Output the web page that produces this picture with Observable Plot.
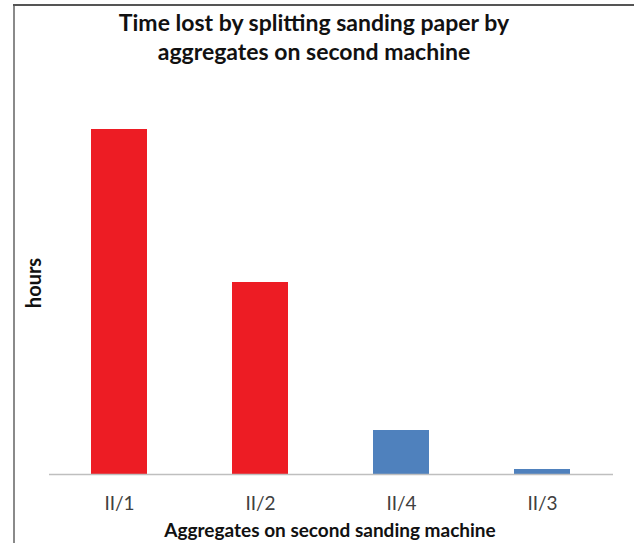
<!DOCTYPE html>
<html>
<head>
<meta charset="utf-8">
<script src="https://cdn.jsdelivr.net/npm/d3@7"></script>
<script src="https://cdn.jsdelivr.net/npm/@observablehq/plot@0.6"></script>
<style>
  html, body { margin: 0; padding: 0; background: #fff; }
  #wrap { position: relative; width: 634px; height: 543px; overflow: hidden; font-family: Lato, "Open Sans", sans-serif; }
  #chart { position: absolute; left: 0; top: 0; }
  .bl { position: absolute; left: 13px; top: 4px; width: 2px; height: 539px; background: #8a8a8a; }
  .bt { position: absolute; left: 13px; top: 4px; width: 621px; height: 2px; background: #555; }
  .title { position: absolute; left: 0; width: 628px; text-align: center; top: 8px; font-weight: bold; font-size: 23px; line-height: 29px; color: #111; }
  .ytitle { position: absolute; left: 33px; top: 283px; transform: translate(-50%, -50%) rotate(-90deg); font-weight: bold; font-size: 20px; color: #111; white-space: nowrap; }
  .xtitle { position: absolute; left: 0; width: 660px; text-align: center; top: 518px; font-weight: bold; font-size: 19px; color: #111; }
</style>
</head>
<body>
<div id="wrap">
  <div id="chart"></div>
  <div class="bl"></div>
  <div class="bt"></div>
  <div class="title">Time lost by splitting sanding paper by<br>aggregates on second machine</div>
  <div class="ytitle">hours</div>
  <div class="xtitle">Aggregates on second sanding machine</div>
</div>
<script>
const categories = ["II/1", "II/2", "II/4", "II/3"];
const hours = [345, 192, 44, 5];
const colors = ["#ED1C24", "#ED1C24", "#4F81BD", "#4F81BD"];

const data = categories.map((c, i) => ({category: c, hours: hours[i], color: colors[i]}));

const chart = Plot.plot({
  width: 634,
  height: 543,
  marginLeft: 49,
  marginRight: 21,
  marginTop: 74,
  marginBottom: 69,
  style: {fontFamily: "Lato, 'Open Sans', sans-serif", background: "transparent"},
  x: {domain: categories, paddingInner: 0.6, paddingOuter: 0.3, label: null, axis: null},
  y: {domain: [0, 400], axis: null},
  marks: [
    Plot.barY(data, {x: "category", y: "hours", fill: "color"}),
    Plot.ruleY([0], {stroke: "#bfbfbf", strokeWidth: 1.5}),
    Plot.axisX({tickSize: 0, tickPadding: 22, fontSize: 19, fill: "#404040", label: null})
  ]
});
document.getElementById("chart").appendChild(chart);
</script>
</body>
</html>
